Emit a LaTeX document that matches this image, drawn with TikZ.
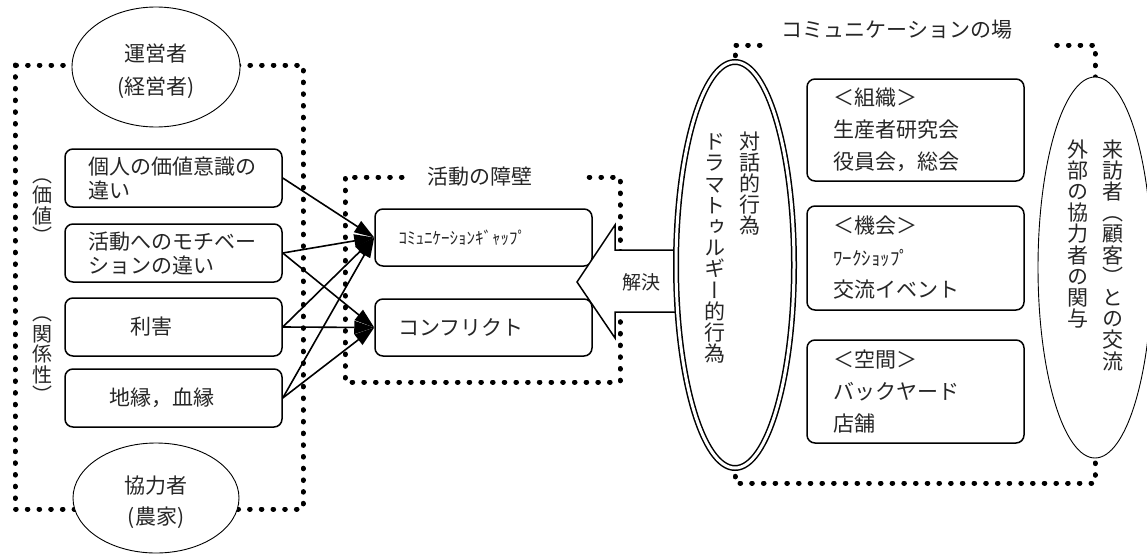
\documentclass[tikz,border=0pt]{standalone}
\usepackage{fontspec}
\usetikzlibrary{shapes.geometric,arrows.meta}
\newfontfamily\jp{Noto Sans CJK JP}
\newfontfamily\jpv{Noto Sans CJK JP}[RawFeature=+vert]
\begin{document}
\begin{tikzpicture}[x=1pt,y=-1pt,
  jpt/.style={font=\jp\fontsize{21}{24}\selectfont, text=black!85},
  lbox/.style={draw, rounded corners=8pt, line width=1.5pt, text width=170pt, inner xsep=23.5pt, inner ysep=0pt, minimum height=58pt, align=left, jpt},
  rbox/.style={lbox, font=\jp\fontsize{21}{32}\selectfont, text width=165pt, inner xsep=26pt, minimum height=103pt},
  dotframe/.style={line width=5pt, dash pattern=on 0.6pt off 11.1pt, line cap=round, black},
  oval/.style={ellipse, draw, fill=white, line width=0.9pt, inner sep=0pt},
  lbl/.style={jpt, align=center, inner sep=0pt},
  vt/.style={font=\jpv\fontsize{21}{21.2}\selectfont, text=black!85, align=center, inner sep=0pt},
  arr/.style={line width=1.6pt, -{Triangle[length=20pt,width=13pt]}}
]
\useasboundingbox (0,0) rectangle (1147,554);

% dotted frames
\draw[dotframe] (15,65) rectangle (303,509);
\draw[dotframe] (402,177) -- (345,177) -- (345,382) -- (620,382) -- (620,177) -- (585,177);
\draw[dotframe] (760,45) -- (735,45) -- (735,483) -- (1095,483) -- (1095,45) -- (1055,45);

% titles
\node[lbl] (t1) at (480,177) {活動の障壁};
\node[lbl] (t2) at (897,30) {コミュニケーションの場};

% left ovals
\node[oval, minimum width=168pt, minimum height=120pt] (op) at (156,67) {};
\node[lbl, font=\jp\fontsize{21}{33}\selectfont] (opl) at (156,71.5) {運営者\\(経営者)};
\node[oval, minimum width=166pt, minimum height=110pt] (fa) at (156,498) {};
\node[lbl, font=\jp\fontsize{21}{31}\selectfont] (fal) at (156,502.5) {協力者\\(農家)};

% vertical side labels
\node[vt, font=\jpv\fontsize{20}{20.5}\selectfont] (v1) at (42,211) {（\\価\\値\\）};
\node[vt, font=\jpv\fontsize{20}{20.5}\selectfont] (v2) at (42,360) {（\\関\\係\\性\\）};

% left boxes
\node[lbox] (b1) at (173.5,178) {個人の価値意識の\\違い};
\node[lbox] (b2) at (173.5,253) {活動へのモチベー\\ションの違い};
\node[lbox] (b3) at (173.5,327) {　　利害};
\node[lbox] (b4) at (173.5,398) {　地縁，血縁};

% middle boxes
\node[lbox, minimum height=57pt] (gap) at (483.5,237.5) {{\fontsize{17}{24}\selectfont ｺﾐｭﾆｹｰｼｮﾝｷﾞｬｯﾌﾟ}};
\node[lbox, minimum height=57pt] (conf) at (483.5,327.5) {コンフリクト};

% arrows
\draw[arr] (b1.east) -- (gap.west);
\draw[arr] (b2.east) -- (gap.west);
\draw[arr] (b2.east) -- (conf.west);
\draw[arr] (b3.east) -- (gap.west);
\draw[arr] (b3.east) -- (conf.west);
\draw[arr] (b4.east) -- (gap.west);
\draw[arr] (b4.east) -- (conf.west);

% block arrow
\draw[line width=1.5pt, fill=white, line join=miter] (690,250) -- (615,250) -- (615,225) -- (577,282) -- (615,338) -- (615,312) -- (690,312);
\node[lbl, font=\jp\fontsize{19}{22}\selectfont] (sol) at (641,282) {解決};

% double ellipse
\node[ellipse, draw, fill=white, double, double distance=3pt, line width=1.5pt, minimum width=118pt, minimum height=406pt, inner sep=0pt] (dlg) at (735,265) {};
\node[vt] (d1) at (750,183.5) {対\\話\\的\\行\\為};
\node[vt] (d2) at (715,248.5) {ド\\ラ\\マ\\ト\\ゥ\\ル\\ギ\\ー\\的\\行\\為};

% right ellipse
\node[oval, minimum width=114pt, minimum height=381pt] (ext) at (1095,267.5) {};
\node[vt] (r1) at (1113,255) {来\\訪\\者\\（\\顧\\客\\）\\と\\の\\交\\流};
\node[vt] (r2) at (1078,234) {外\\部\\の\\協\\力\\者\\の\\関\\与};

% right boxes
\node[rbox, minimum height=102pt] (org) at (915.5,130) {＜組織＞\\生産者研究会\\役員会，総会};
\node[rbox, minimum height=104pt] (opp) at (915.5,258) {＜機会＞\\{\fontsize{19}{32}\selectfont ﾜｰｸｼｮｯﾌﾟ}\\交流イベント};
\node[rbox, minimum height=103pt] (spc) at (915.5,391.5) {＜空間＞\\バックヤード\\店舗};
\end{tikzpicture}
\end{document}
